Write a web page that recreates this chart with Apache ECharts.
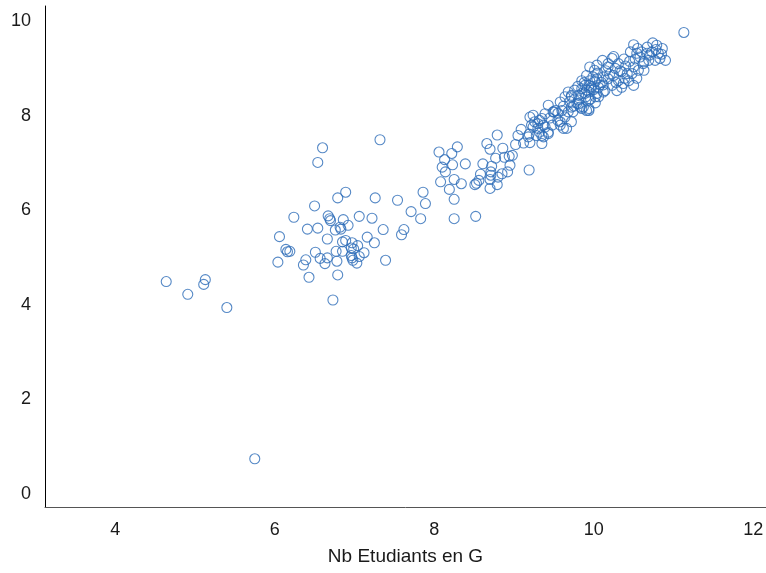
<!doctype html>
<html>
	<head>
		<meta charset="UTF-8">
		<title></title>
		<script src="https://cdn.jsdelivr.net/npm/echarts@6/dist/echarts.min.js"></script>
		<style type="text/css">
			html, body{
				margin: 0;
				padding: 0;
				background: #fff;
			}
			#chart{
				width: 766px;
				height: 573px;
			}
		</style>
	</head>
	<body>
		<div id="chart"></div>
		<script type="text/javascript">
			// Nb Etudiants en G (axe x)
			var etudiantsG = [
				4.64, 4.91, 5.13, 5.11, 5.40, 5.75,
				7.32, 6.60, 6.54, 6.89, 6.79, 7.26, 7.54, 7.71, 6.50, 6.24, 6.67, 6.69, 6.70, 6.86,
				7.06, 7.22, 6.92, 6.82, 6.83, 6.76, 6.41, 6.54, 7.36, 7.62, 7.59, 6.06, 6.66, 7.16,
				7.25, 6.85, 6.89, 6.97, 7.04, 6.96, 6.99, 6.85, 6.77, 6.51, 6.14, 6.16, 6.19, 7.12,
				6.96, 6.97, 6.98, 7.03, 7.06, 6.57, 6.66, 6.63, 6.39, 6.36, 6.78, 6.04, 7.39, 6.43,
				6.79, 6.73,
				8.06, 8.29, 8.22, 8.13, 8.10, 8.23, 8.14, 8.39, 8.08, 8.25, 8.34, 8.19, 8.25, 7.86,
				7.89, 7.83, 8.25, 8.52, 8.79, 8.66, 8.70, 8.86, 8.61, 8.72, 8.77, 8.88, 8.94, 8.98,
				8.95, 8.58, 8.56, 8.53, 8.51, 8.71, 8.71, 8.70, 8.80, 8.85, 8.92, 8.79, 8.70, 9.19,
				9.05, 9.09, 9.02, 9.12, 9.19, 9.20,
				9.43, 9.39, 9.49, 9.24, 9.26, 9.32, 9.37, 9.30, 9.22, 9.18, 9.35, 9.43, 9.35, 9.60,
				9.64, 9.72, 9.58, 9.66, 9.72, 9.81, 9.68, 9.72, 9.76, 9.81, 9.85, 9.89, 9.94, 9.83,
				9.91, 9.97, 10.02, 10.04, 10.08, 9.95, 11.13, 10.50, 10.74, 10.79, 10.86, 10.46, 10.54, 10.60,
				10.67, 10.73, 10.81, 10.83, 10.90, 10.77, 10.69, 10.58, 10.63, 10.50, 10.56, 10.63, 10.48, 10.54,
				10.50, 10.44, 10.11, 10.23, 10.31, 10.35, 10.42, 10.18, 10.04, 10.01, 9.91, 9.85, 9.89, 9.95,
				10.04, 10.12, 10.18, 10.25, 10.31, 10.23, 10.14, 10.29, 10.37, 10.39, 9.79, 9.94, 9.97, 10.02,
				9.85, 9.94, 9.74, 10.12, 10.06, 9.20, 9.30, 9.35, 9.39, 9.24, 9.32, 9.43, 9.37, 9.28,
				9.52, 9.58, 9.64, 9.72, 9.81, 9.85, 9.91, 9.94, 9.87, 9.94, 9.62, 9.58, 9.68, 9.50,
				9.55,
				9.80, 9.88, 9.99, 10.05, 10.10, 10.15, 10.20, 10.27, 10.33, 10.40, 10.45, 10.52, 9.90, 9.96,
				10.00, 10.06, 9.75, 9.70, 9.62, 9.55, 9.45, 9.48, 10.02, 10.12, 10.28, 10.35, 10.18, 10.25,
				10.38, 10.62, 10.70, 10.78, 10.85, 10.55, 10.67
			];
			// valeurs en ordonnée
			var valeursY = [
				4.49, 4.22, 4.53, 4.43, 3.94, 0.74,
				7.49, 7.32, 7.01, 6.38, 6.26, 6.26, 6.21, 5.97, 6.09, 5.85, 5.88, 5.82, 5.78, 5.80,
				5.87, 5.83, 5.68, 5.64, 5.60, 5.58, 5.60, 5.62, 5.59, 5.59, 5.48, 5.44, 5.39, 5.43,
				5.31, 5.33, 5.36, 5.31, 5.25, 5.20, 5.18, 5.13, 5.13, 5.11, 5.17, 5.12, 5.13, 5.10,
				5.04, 4.99, 4.94, 4.88, 5.02, 4.98, 4.99, 4.87, 4.95, 4.84, 4.92, 4.90, 4.94, 4.58,
				4.63, 4.10,
				7.23, 7.34, 7.20, 7.07, 6.91, 6.96, 6.81, 6.98, 6.60, 6.65, 6.56, 6.44, 6.23, 6.38,
				6.14, 5.82, 5.82, 5.87, 7.59, 7.41, 7.29, 7.31, 6.98, 6.93, 7.10, 7.12, 7.14, 7.16,
				6.95, 6.76, 6.63, 6.57, 6.54, 6.81, 6.74, 6.65, 6.70, 6.77, 6.81, 6.54, 6.46, 6.85,
				7.58, 7.71, 7.39, 7.42, 7.61, 7.43,
				8.22, 8.04, 8.08, 8.01, 7.87, 7.90, 7.80, 7.73, 7.80, 7.55, 7.58, 7.65, 7.41, 8.11,
				7.97, 7.87, 7.80, 7.73, 8.18, 8.25, 8.50, 8.40, 8.54, 8.43, 8.57, 8.47, 8.33, 8.18,
				8.11, 8.58, 8.72, 8.47, 8.65, 9.03, 9.76, 9.50, 9.54, 9.49, 9.42, 9.35, 9.32, 9.35,
				9.32, 9.35, 9.32, 9.21, 9.17, 9.17, 9.17, 9.24, 9.14, 9.03, 8.96, 8.96, 8.89, 8.79,
				8.64, 8.74, 9.17, 9.21, 9.10, 8.93, 8.89, 9.03, 9.07, 8.96, 8.85, 8.74, 8.64, 8.74,
				8.78, 8.82, 8.78, 8.85, 8.74, 8.64, 8.53, 8.53, 8.68, 8.79, 8.26, 8.50, 8.61, 8.40,
				8.15, 8.11, 8.08, 8.50, 8.40, 7.97, 7.83, 7.94, 7.76, 7.76, 7.65, 7.62, 7.55, 7.58,
				8.11, 8.29, 8.40, 8.43, 8.33, 8.47, 8.54, 8.64, 8.18, 8.15, 7.73, 7.87, 8.08, 8.08,
				7.90,
				8.62, 8.70, 8.82, 8.90, 8.70, 8.95, 8.88, 9.00, 8.95, 9.05, 9.15, 9.20, 8.40, 8.35,
				8.55, 8.60, 8.20, 8.30, 8.20, 8.05, 7.95, 7.80, 8.27, 8.65, 8.70, 8.60, 9.10, 9.25,
				9.20, 9.10, 9.28, 9.40, 9.30, 9.42, 9.45
			];
			// graduations affichées
			var ticksX = [4, 6, 8, 10, 12];
			var ticksY = [0, 2, 4, 6, 8, 10];

			var points = [];
			for(var i=0;i<etudiantsG.length;i++){
				points.push([etudiantsG[i], valeursY[i]]);
			}

			var myChart = echarts.init(document.getElementById('chart'), null, {renderer: 'canvas'});
			var option = {
				backgroundColor: '#fff',
				animation: false,
				grid: {
					left: 45,
					right: 0,
					top: 6,
					bottom: 66,
					containLabel: false,
					outerBoundsMode: 'none'
				},
				xAxis: {
					type: 'value',
					min: 3.12,
					max: 12.16,
					splitNumber: 5,
					name: 'Nb Etudiants en G',
					nameLocation: 'middle',
					nameGap: 40,
					nameTextStyle: {
						color: '#1a1a1a',
						fontSize: 19,
						fontFamily: 'Liberation Sans, Arial, sans-serif'
					},
					axisLine: {show: true, onZero: false, lineStyle: {color: '#555', width: 1}},
					axisTick: {show: false},
					splitLine: {show: false},
					axisLabel: {
						color: '#1a1a1a',
						fontSize: 18,
						margin: 14,
						fontFamily: 'Liberation Sans, Arial, sans-serif',
						formatter: function(v){
							return ticksX.indexOf(Math.round(v*100)/100) >= 0 ? String(v) : '';
						}
					}
				},
				yAxis: {
					type: 'value',
					min: -0.28,
					max: 10.32,
					splitNumber: 5,
					axisLine: {show: true, onZero: false, lineStyle: {color: '#000', width: 1}},
					axisTick: {show: false},
					splitLine: {show: false},
					axisLabel: {
						color: '#1a1a1a',
						fontSize: 18,
						margin: 14,
						fontFamily: 'Liberation Sans, Arial, sans-serif',
						formatter: function(v){
							return ticksY.indexOf(Math.round(v*100)/100) >= 0 ? String(v) : '';
						}
					}
				},
				series: [
					{
						type: 'scatter',
						data: points,
						symbol: 'circle',
						symbolSize: 10,
						itemStyle: {
							color: 'rgba(255,255,255,0)',
							borderColor: '#2c6cb8',
							borderWidth: 1.1
						}
					}
				]
			};
			myChart.setOption(option, true);
		</script>
	</body>
</html>
